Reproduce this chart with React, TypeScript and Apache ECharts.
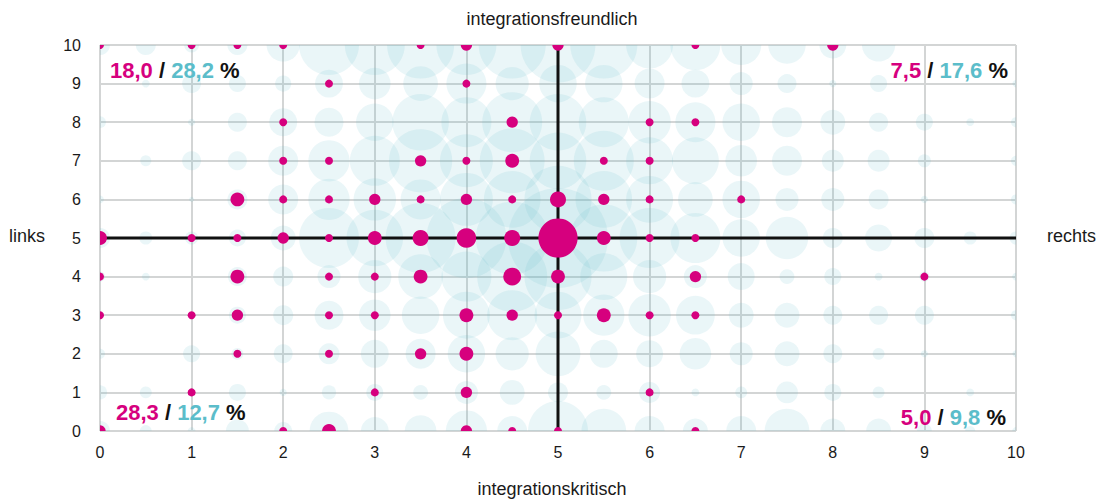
import React, { useEffect, useRef } from "react";
import * as echarts from "echarts";

// x positions (half steps) and y rows
const xSteps = [0, 0.5, 1, 1.5, 2, 2.5, 3, 3.5, 4, 4.5, 5, 5.5, 6, 6.5, 7, 7.5, 8, 8.5, 9, 9.5, 10];
const yRows = [10, 9, 8, 7, 6, 5, 4, 3, 2, 1, 0];
const tickLabels = ["0", "1", "2", "3", "4", "5", "6", "7", "8", "9", "10"];

// light blue bubbles: one row per y (10 .. 0), one value per x step
const blue10 = [4, 4, 2.2, 4, 11, 36, 36, 45, 36, 45, 56, 45, 22, 25, 16, 14, 7.3, 11, 0, 0, 0];
const blue9 = [0, 0.6, 3.6, 2.9, 2.6, 7.8, 10, 12, 16, 11, 14, 14, 9, 7.8, 5.3, 3.6, 0.5, 2.9, 0, 0, 0.5];
const blue8 = [1.4, 0, 0.5, 3.6, 7.8, 8.4, 14, 32, 25, 36, 32, 25, 18, 16, 14, 9, 6.2, 3.6, 2.9, 0.6, 1];
const blue7 = [0, 1.2, 3.6, 3.6, 9, 17, 25, 40, 28, 42, 32, 36, 22, 22, 10, 9, 4.8, 4.8, 1.7, 0, 1];
const blue6 = [0.6, 0, 0.25, 4, 9, 17, 18, 16, 28, 32, 45, 32, 22, 12, 14, 5.3, 5.3, 4, 0.5, 0, 1];
const blue5 = [4, 1.7, 1.7, 2.9, 6.2, 36, 32, 49, 64, 53, 100, 45, 36, 25, 14, 18, 4, 7.3, 4, 1.7, 1.7];
const blue4 = [1, 0.6, 0, 3.6, 4, 5.3, 11, 20, 25, 49, 45, 22, 11, 5.3, 7.3, 2.2, 2.9, 0.6, 1, 0, 0.6];
const blue3 = [0.6, 0, 0, 2.9, 4, 8.4, 10, 14, 22, 25, 22, 17, 18, 15, 6.2, 6.2, 3.6, 3.6, 3.6, 0, 1];
const blue2 = [1, 0, 2.9, 1.4, 3.6, 4.4, 7.8, 9, 14, 11, 20, 7.8, 7.3, 10, 5.3, 6.2, 3.6, 1.4, 0.5, 0, 0.5];
const blue1 = [2, 1.4, 0.6, 2.9, 0.5, 2, 2.9, 2.2, 5.3, 6.2, 4, 2.2, 4.4, 0.6, 1.4, 4.8, 2.9, 1.4, 0, 0.6, 0];
const blue0 = [4, 1.4, 0.6, 5.3, 3.2, 15, 7.8, 10, 17, 9, 36, 20, 9, 6.2, 9, 20, 6.2, 6.2, 2.2, 1, 0.6];
const blueRows = [blue10, blue9, blue8, blue7, blue6, blue5, blue4, blue3, blue2, blue1, blue0];

// magenta dots: [x, y, count]
const magenta = [
  [0, 10, 1], [1, 10, 1], [1.5, 10, 1], [2, 10, 1], [3.5, 10, 1], [4, 10, 2], [5, 10, 2], [6.5, 10, 1], [8, 10, 2],
  [2.5, 9, 1], [4, 9, 1],
  [2, 8, 1], [4.5, 8, 2], [6, 8, 1], [6.5, 8, 1],
  [2, 7, 1], [2.5, 7, 1], [3.5, 7, 2], [4, 7, 1], [4.5, 7, 3], [5.5, 7, 1], [6, 7, 1],
  [1.5, 6, 3], [2, 6, 1], [2.5, 6, 1], [3, 6, 2], [3.5, 6, 1], [4, 6, 2], [4.5, 6, 1], [5, 6, 4], [5.5, 6, 2], [6, 6, 1], [7, 6, 1],
  [0, 5, 3], [1, 5, 1], [1.5, 5, 1], [2, 5, 2], [2.5, 5, 1], [3, 5, 3], [3.5, 5, 4], [4, 5, 6], [4.5, 5, 4], [5, 5, 24], [5.5, 5, 3], [6, 5, 1], [6.5, 5, 1],
  [0, 4, 1], [1.5, 4, 3], [2.5, 4, 1], [3, 4, 1], [3.5, 4, 3], [4.5, 4, 5], [5, 4, 3], [6.5, 4, 2], [9, 4, 1],
  [0, 3, 1], [1, 3, 1], [1.5, 3, 2], [2.5, 3, 1], [3, 3, 1], [4, 3, 3], [4.5, 3, 2], [5, 3, 1], [5.5, 3, 3], [6, 3, 1], [6.5, 3, 1],
  [1.5, 2, 1], [2.5, 2, 1], [3.5, 2, 2], [4, 2, 3],
  [1, 1, 1], [3, 1, 1], [4, 1, 2], [6, 1, 1],
  [0, 0, 2], [2, 0, 1], [2.5, 0, 3], [4, 0, 2], [4.5, 0, 1], [5, 0, 1], [6.5, 0, 1],
];

// quadrant shares: [magenta %, blue %]
const quadTopLeft = ["18,0", "28,2"];
const quadTopRight = ["7,5", "17,6"];
const quadBottomLeft = ["28,3", "12,7"];
const quadBottomRight = ["5,0", "9,8"];

const MAG = "#d6007e";
const BLU = "#5bbdca";
const FONT = "'Liberation Sans', Arial, sans-serif";

function quadText(vals: string[]) {
  return `{m|${vals[0]}}{k|\u00a0/\u00a0}{b|${vals[1]}}{k|\u00a0%}`;
}
const rich = {
  m: { fill: MAG, fontSize: 22, fontWeight: "bold", fontFamily: FONT },
  b: { fill: BLU, fontSize: 22, fontWeight: "bold", fontFamily: FONT },
  k: { fill: "#111", fontSize: 22, fontWeight: "bold", fontFamily: FONT },
};

export default function App() {
  const ref = useRef<HTMLDivElement>(null);
  useEffect(() => {
    if (!ref.current) return;
    const chart = echarts.init(ref.current, undefined, { renderer: "svg" });

    const blueData: number[][] = [];
    yRows.forEach((y, ri) => {
      xSteps.forEach((x, ci) => {
        const v = blueRows[ri][ci];
        if (v > 0) blueData.push([x, y, v]);
      });
    });

    const axisCommon = {
      type: "value",
      min: 0,
      max: 10,
      interval: 1,
      axisLine: { show: false },
      axisTick: { show: false },
      splitLine: { show: true, lineStyle: { color: "#d3d5d5", width: 2 } },
    };

    chart.setOption({
      animation: false,
      grid: { left: 100, top: 45, width: 916, height: 386, containLabel: false },
      xAxis: {
        ...axisCommon,
        axisLabel: {
          color: "#1a1a1a",
          fontSize: 16,
          fontFamily: FONT,
          margin: 13,
          formatter: (v: number) => tickLabels[Math.round(v)],
        },
      },
      yAxis: {
        ...axisCommon,
        axisLabel: {
          color: "#1a1a1a",
          fontSize: 16,
          fontFamily: FONT,
          margin: 19,
          formatter: (v: number) => tickLabels[Math.round(v)],
        },
      },
      series: [
        {
          type: "custom",
          z: 2,
          clip: true,
          silent: true,
          data: blueData,
          renderItem: (params: any, api: any) => {
            const p = api.coord([api.value(0), api.value(1)]);
            return {
              type: "circle",
              shape: { cx: p[0], cy: p[1], r: Math.sqrt(api.value(2)) * 5 },
              style: { fill: "rgba(91,184,200,0.13)" },
            };
          },
        },
        {
          type: "line",
          z: 3,
          silent: true,
          showSymbol: false,
          data: [[5, 0], [5, 10]],
          lineStyle: { color: "#111", width: 3 },
        },
        {
          type: "line",
          z: 3,
          silent: true,
          showSymbol: false,
          data: [[0, 5], [10, 5]],
          lineStyle: { color: "#111", width: 3 },
        },
        {
          type: "custom",
          z: 4,
          clip: true,
          silent: true,
          data: magenta,
          renderItem: (params: any, api: any) => {
            const p = api.coord([api.value(0), api.value(1)]);
            return {
              type: "circle",
              shape: { cx: p[0], cy: p[1], r: Math.sqrt(api.value(2)) * 4 },
              style: { fill: MAG },
            };
          },
        },
      ],
      graphic: [
        {
          type: "text", left: "center", top: 10,
          style: { text: "integrationsfreundlich", fill: "#1a1a1a", fontSize: 18, fontFamily: FONT },
        },
        {
          type: "text", left: "center", top: 480,
          style: { text: "integrationskritisch", fill: "#1a1a1a", fontSize: 18, fontFamily: FONT },
        },
        {
          type: "text", left: 9, top: 227,
          style: { text: "links", fill: "#1a1a1a", fontSize: 18, fontFamily: FONT },
        },
        {
          type: "text", right: 8, top: 227,
          style: { text: "rechts", fill: "#1a1a1a", fontSize: 18, fontFamily: FONT },
        },
        {
          type: "text", left: 110, top: 59, z: 10,
          style: { text: quadText(quadTopLeft), rich },
        },
        {
          type: "text", right: 96, top: 59, z: 10,
          style: { text: quadText(quadTopRight), rich },
        },
        {
          type: "text", left: 116, top: 401, z: 10,
          style: { text: quadText(quadBottomLeft), rich },
        },
        {
          type: "text", right: 98, top: 406, z: 10,
          style: { text: quadText(quadBottomRight), rich },
        },
      ],
    });
    return () => chart.dispose();
  }, []);
  return (
    <div
      ref={ref}
      style={{ position: "fixed", left: 0, top: 0, width: 1104, height: 503, background: "#fff" }}
    />
  );
}
